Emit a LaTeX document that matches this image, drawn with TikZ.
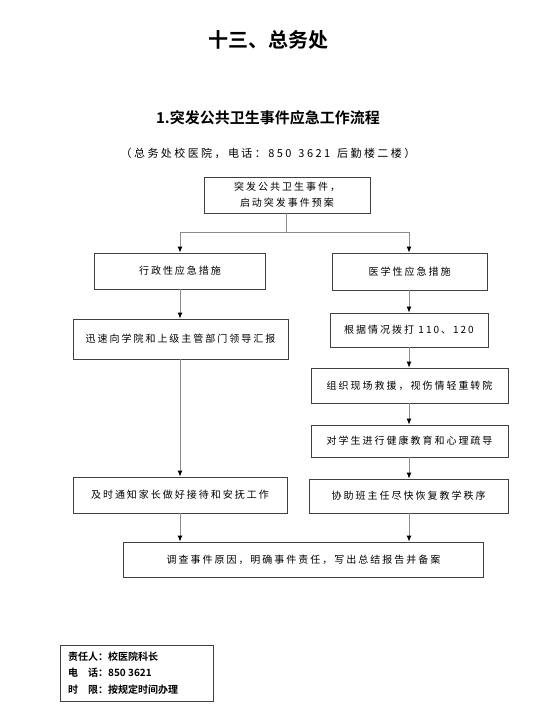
\documentclass[tikz,border=0pt]{standalone}
\usepackage{fontspec}
\setmainfont{Noto Sans CJK SC}[BoldFont={Noto Sans CJK SC Bold}]
\usetikzlibrary{arrows.meta}
\tikzset{
  box/.style={draw=black!75, line width=0.7pt, rectangle, inner sep=0pt, align=center,
    font=\fontsize{10}{16}\selectfont\addfontfeature{LetterSpace=20}},
  conn/.style={draw=black!45, line width=1pt},
  arr/.style={conn, -{Latex[length=6pt,width=5pt,black]}},
  infotext/.style={anchor=west, inner sep=0pt, font=\fontsize{10}{12}\selectfont\bfseries},
}
\begin{document}
\begin{tikzpicture}[x=1pt,y=-1pt]
\useasboundingbox (0,0) rectangle (560,716);
% titles
\node[inner sep=0pt, font=\fontsize{20}{24}\selectfont\bfseries] (title) at (268,40) {十三、总务处};
\node[inner sep=0pt, font=\fontsize{15}{18}\selectfont\bfseries] (sub) at (268,118) {1.突发公共卫生事件应急工作流程};
\node[inner sep=0pt, font=\fontsize{11}{14}\selectfont\addfontfeature{LetterSpace=22}] (tel) at (268,153) {（总务处校医院，电话：850\hspace{7pt}3621\hspace{7pt}后勤楼二楼）};
% boxes
\node[box, minimum width=166pt, minimum height=36pt] (top) at (287,195) {突发公共卫生事件，\\启动突发事件预案};
\node[box, minimum width=171pt, minimum height=36pt] (l1) at (180,271) {行政性应急措施};
\node[box, minimum width=155pt, minimum height=37pt] (r1) at (409.5,271.5) {医学性应急措施};
\node[box, minimum width=215pt, minimum height=40pt] (l2) at (180.5,339) {迅速向学院和上级主管部门领导汇报};
\node[box, minimum width=158pt, minimum height=34pt] (r2) at (409,330) {根据情况拨打 110、120};
\node[box, minimum width=197pt, minimum height=35pt] (r3) at (409.5,385.5) {组织现场救援，视伤情轻重转院};
\node[box, minimum width=197pt, minimum height=32pt] (r4) at (409.5,441) {对学生进行健康教育和心理疏导};
\node[box, minimum width=199pt, minimum height=34pt] (r5) at (408.5,496) {协助班主任尽快恢复教学秩序};
\node[box, minimum width=214pt, minimum height=36pt] (l3) at (180,495) {及时通知家长做好接待和安抚工作};
\node[box, minimum width=360pt, minimum height=35pt] (bot) at (303.5,559.5) {调查事件原因，明确事件责任，写出总结报告并备案};
% connectors
\coordinate (split) at (286,232);
\coordinate (lx) at (180,0);
\coordinate (rx) at (409,0);
\draw[conn] (top.south -| split) -- (split);
\draw[arr] (split) -| (lx |- l1.north);
\draw[arr] (split) -| (rx |- r1.north);
\draw[arr] (lx |- l1.south) -- (lx |- l2.north);
\draw[arr] (lx |- l2.south) -- (lx |- l3.north);
\draw[arr] (lx |- l3.south) -- (lx |- bot.north);
\draw[arr] (rx |- r1.south) -- (rx |- r2.north);
\draw[arr] (rx |- r2.south) -- (rx |- r3.north);
\draw[arr] (rx |- r3.south) -- (rx |- r4.north);
\draw[arr] (rx |- r4.south) -- (rx |- r5.north);
\draw[arr] (rx |- r5.south) -- (rx |- bot.north);
% info box
\node[draw=black!75, line width=0.7pt, rectangle, minimum width=153pt, minimum height=56pt, inner sep=0pt] (info) at (136.5,673) {};
\node[infotext] (i1) at (68,657) {责任人：校医院科长};
\node[infotext] (i2) at (68,673) {电\hspace{10pt}话：850 3621};
\node[infotext] (i3) at (68,690) {时\hspace{10pt}限：按规定时间办理};
\end{tikzpicture}
\end{document}
